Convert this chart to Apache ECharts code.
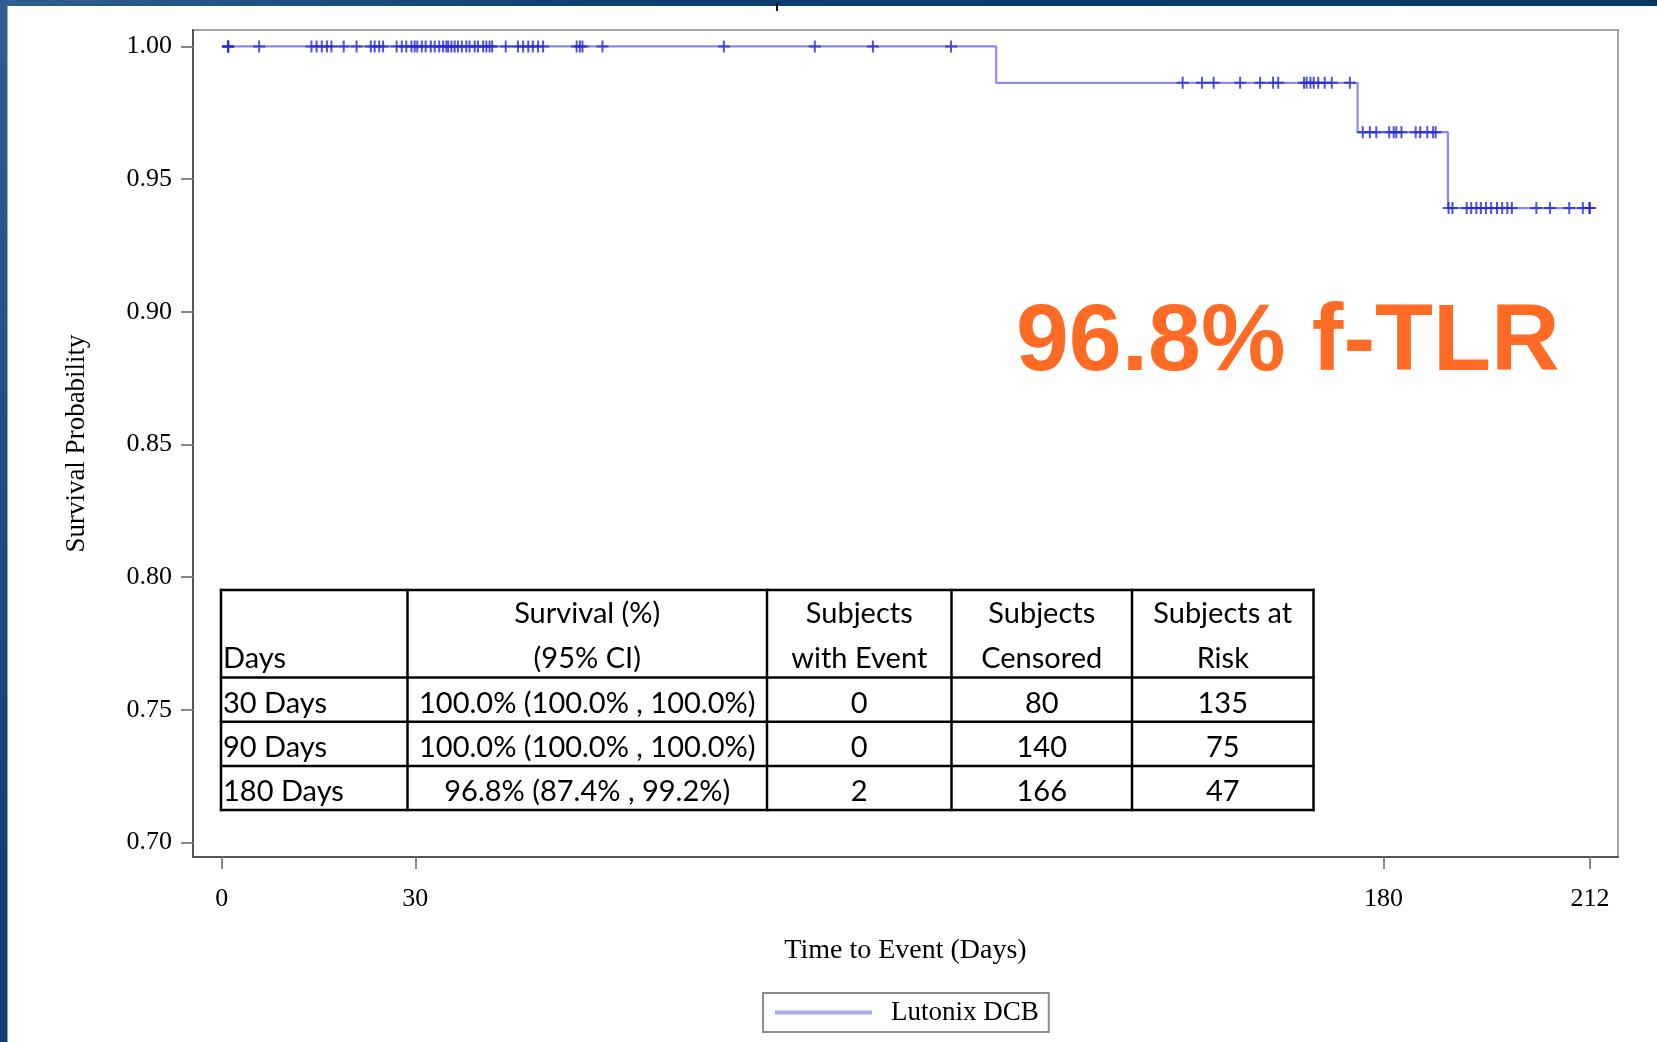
<!DOCTYPE html>
<html><head><meta charset="utf-8">
<script src="https://cdn.jsdelivr.net/npm/echarts@6/dist/echarts.min.js"></script>
<style>html,body{margin:0;padding:0;background:#0a3566;}#c{width:1657px;height:1042px;}</style>
</head><body><div id="c"></div>
<script>
// ---- data ----
const stepDays = [0, 120, 176, 190, 212];
const survival = [1.0, 0.9863, 0.9677, 0.9391, 0.9391];
const censorDays = [1, 1, 1, 5.8, 13.9, 14.7, 15.5, 16.3, 17.0, 18.9, 20.9, 23.1, 23.7, 24.4, 25.0,
  27.1, 27.9, 28.6, 29.4, 29.9, 30.3, 31.0, 31.6, 32.4, 33.0, 33.7, 34.3, 34.8, 35.1, 35.6, 36.1,
  36.6, 37.2, 37.9, 38.4, 39.2, 39.7, 40.5, 41.0, 41.5, 41.9, 44.0, 45.9, 46.7, 47.5, 48.2, 49.0,
  49.8, 55.0, 55.5, 55.9, 59.0, 77.8, 91.9, 100.9, 113.0,
  148.9, 151.9, 153.7, 157.8, 160.9, 162.9, 163.7, 167.7, 168.1, 168.7, 169.2, 169.9, 170.9, 172.0, 174.8,
  176.8, 177.9, 178.9, 180.9, 181.6, 182.0, 182.8, 185.0, 185.7, 186.8, 187.7, 188.1,
  190.1, 190.7, 192.9, 193.6, 194.4, 195.1, 195.9, 196.7, 197.6, 198.4, 199.2, 199.9, 203.7,
  205.8, 208.8, 210.9, 211.9, 212];
const xTicks = [0, 30, 180, 212];
const yTicks = [0.70, 0.75, 0.80, 0.85, 0.90, 0.95, 1.00];
const seriesName = 'Lutonix DCB';
const tableHeader = [['', 'Days'], ['Survival (%)', '(95% CI)'], ['Subjects', 'with Event'], ['Subjects', 'Censored'], ['Subjects at', 'Risk']];
const tableDays = ['30 Days', '90 Days', '180 Days'];
const tableSurvival = ['100.0% (100.0% , 100.0%)', '100.0% (100.0% , 100.0%)', '96.8% (87.4% , 99.2%)'];
const tableEvents = ['0', '0', '2'];
const tableCensored = ['80', '140', '166'];
const tableAtRisk = ['135', '75', '47'];
const annotation = '96.8% f-TLR';

// ---- helpers ----
function levelAt(d) {
  let v = survival[0];
  for (let i = 0; i < stepDays.length; i++) if (stepDays[i] <= d) v = survival[i];
  return v;
}

const serif = 'Liberation Serif';
const tblFont = 'Lato';
const colX = [221, 407.5, 767, 951.5, 1132, 1313.5];
const rowY = [590, 677.5, 721.7, 766, 810];

const g = [];
g.push({type: 'rect', z: -10, silent: true, shape: {x: 7.5, y: 6, width: 1660, height: 1040}, style: {fill: '#ffffff'}});
g.push({type: 'line', z: 5, shape: {x1: 777, y1: 3, x2: 777, y2: 11}, style: {stroke: '#000', lineWidth: 2}});
g.push({type: 'rect', z: 9, shape: {x: colX[0], y: rowY[0], width: colX[5] - colX[0], height: rowY[4] - rowY[0]}, style: {fill: '#fff'}});
rowY.forEach(y => g.push({type: 'line', z: 10, shape: {x1: colX[0] - 1.2, y1: y, x2: colX[5] + 1.2, y2: y}, style: {stroke: '#000', lineWidth: 2.5}}));
colX.forEach(x => g.push({type: 'line', z: 10, shape: {x1: x, y1: rowY[0] - 1.2, x2: x, y2: rowY[4] + 1.2}, style: {stroke: '#000', lineWidth: 2.5}}));
function cellText(txt, col, yc) {
  const left = col === 0;
  g.push({type: 'text', z: 11, x: left ? colX[0] + 2 : (colX[col] + colX[col + 1]) / 2, y: yc,
    style: {text: txt, fill: '#000', font: '29px ' + tblFont, textAlign: left ? 'left' : 'center', textVerticalAlign: 'middle'}});
}
tableHeader.forEach((h, c) => { if (h[0]) cellText(h[0], c, 614); cellText(h[1], c, 659); });
const bodyCols = [tableDays, tableSurvival, tableEvents, tableCensored, tableAtRisk];
for (let r = 0; r < tableDays.length; r++) {
  const yc = (rowY[r + 1] + rowY[r + 2]) / 2 + 4;
  bodyCols.forEach((col, c) => cellText(col[r], c, yc));
}
g.push({type: 'text', z: 11, x: 1016, y: 344, style: {text: annotation, fill: '#ff6a24', font: 'bold 95px "Liberation Sans"', textAlign: 'left', textVerticalAlign: 'middle'}});

const chart = echarts.init(document.getElementById('c'));
chart.setOption({
  animation: false,
  backgroundColor: {type: 'linear', x: 0, y: 0, x2: 1, y2: 1, colorStops: [
    {offset: 0, color: '#2f5f90'}, {offset: 0.25, color: '#123f72'}, {offset: 1, color: '#04305f'}]},
  grid: {left: 193, top: 30, right: 39, bottom: 185, show: true, borderColor: '#a3a3a3', borderWidth: 2, backgroundColor: 'transparent'},
  legend: {data: [seriesName], left: 763, top: 993, icon: 'rect', itemWidth: 97, itemHeight: 4,
    padding: [6, 10, 6, 12], borderColor: '#8c8c8c', borderWidth: 2, backgroundColor: '#fff',
    itemStyle: {color: '#ababf2'},
    textStyle: {fontFamily: serif, fontSize: 27, color: '#000', padding: [0, 0, 0, 14]}},
  xAxis: {type: 'value', min: -4.45, max: 216.35, splitLine: {show: false},
    axisLine: {onZero: false, lineStyle: {color: '#555', width: 2}},
    axisTick: {customValues: xTicks, length: 12, lineStyle: {color: '#888', width: 2}},
    axisLabel: {customValues: xTicks, margin: 29, fontFamily: serif, fontSize: 26, color: '#000'},
    name: 'Time to Event (Days)', nameLocation: 'middle', nameGap: 80,
    nameTextStyle: {fontFamily: serif, fontSize: 28, color: '#000'}},
  yAxis: {type: 'value', min: 0.6945, max: 1.0062, splitLine: {show: false},
    axisLine: {onZero: false, lineStyle: {color: '#555', width: 2}},
    axisTick: {customValues: yTicks, length: 12, lineStyle: {color: '#888', width: 2}},
    axisLabel: {customValues: yTicks, margin: 21, fontFamily: serif, fontSize: 26, color: '#000', formatter: v => v.toFixed(2)},
    name: 'Survival Probability', nameLocation: 'middle', nameGap: 103, nameRotate: 90,
    nameTextStyle: {fontFamily: serif, fontSize: 27, color: '#000'}},
  graphic: g,
  series: [
    {name: seriesName, type: 'line', step: 'end', showSymbol: false, color: '#8a8af0',
      data: stepDays.map((d, i) => [d, survival[i]]),
      lineStyle: {color: '#8a8af0', width: 2.2}, z: 2},
    {name: 'Censored', type: 'scatter', symbol: 'path://M5,0h2v5h5v2h-5v5h-2v-5h-5v-2h5z', symbolSize: 12,
      data: censorDays.map(d => [d, levelAt(d)]),
      itemStyle: {color: '#2828d8', opacity: 0.8}, z: 3}
  ]
});
</script></body></html>
